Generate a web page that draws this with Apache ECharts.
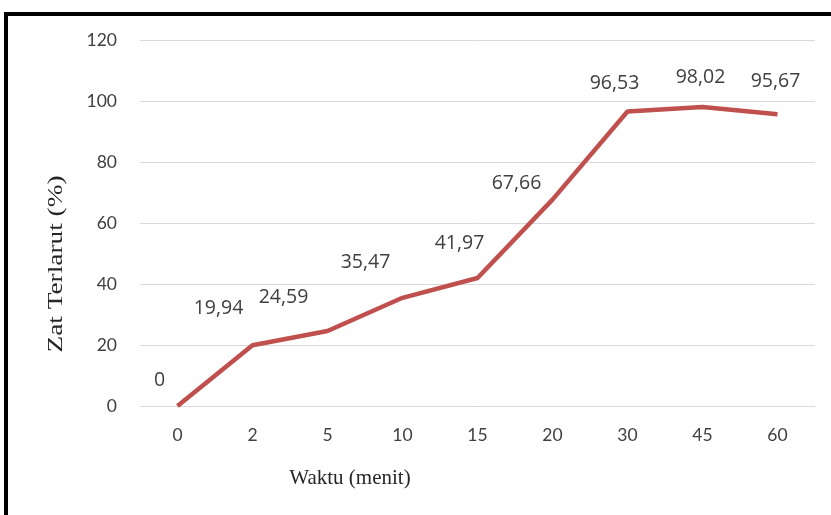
<!DOCTYPE html>
<html>
<head>
<meta charset="utf-8">
<script src="https://cdn.jsdelivr.net/npm/echarts@6/dist/echarts.min.js"></script>
<style>
  html, body { margin: 0; padding: 0; background: #ffffff; }
  #chart { width: 831px; height: 515px; }
</style>
</head>
<body>
<div id="chart"></div>
<script>
// Dissolution time points (minutes) and percentage dissolved
const waktu = ['0', '2', '5', '10', '15', '20', '30', '45', '60'];
const zatTerlarut = [0, 19.94, 24.59, 35.47, 41.97, 67.66, 96.53, 98.02, 95.67];
const yTicks = { min: 0, max: 120, interval: 20 };

// Per-point label placement [dx, dy] of the label centre from its point
const labelNudge = [
  [-18, -26], [-34, -37], [-44, -34], [-37, -35], [-18, -35],
  [-36, -16], [-13, -28], [-2, -30], [-2, -33]
];

const fmt = v => v.toFixed(2).replace('.', ',').replace(/,00$/, '');

const seriesData = zatTerlarut.map((v, i) => ({
  value: v,
  label: { offset: labelNudge[i] }
}));

const chart = echarts.init(document.getElementById('chart'), null, { renderer: 'canvas' });

chart.setOption({
  animation: false,
  backgroundColor: '#ffffff',
  grid: { left: 140, right: 16, top: 40, bottom: 109, containLabel: false },
  xAxis: {
    type: 'category',
    data: waktu,
    boundaryGap: true,
    axisLine: { show: true, lineStyle: { color: '#d9d9d9', width: 1 } },
    axisTick: { show: false },
    axisLabel: { color: '#404040', fontFamily: 'Lato', fontSize: 17.5, margin: 20 },
    splitLine: { show: false }
  },
  yAxis: {
    type: 'value',
    min: yTicks.min,
    max: yTicks.max,
    interval: yTicks.interval,
    axisLine: { show: false },
    axisTick: { show: false },
    axisLabel: { color: '#404040', fontFamily: 'Lato', fontSize: 17.5, margin: 23 },
    splitLine: { lineStyle: { color: '#d9d9d9', width: 1 } }
  },
  series: [{
    type: 'line',
    data: seriesData,
    symbol: 'circle',
    symbolSize: 0,
    showSymbol: true,
    lineStyle: { color: '#c0504d', width: 4.5 },
    itemStyle: { color: '#c0504d' },
    label: {
      show: true,
      position: 'inside',
      color: '#404040',
      fontFamily: 'Open Sans',
      fontSize: 19.5,
      formatter: p => fmt(p.value)
    },
    z: 3
  }],
  graphic: [
    {
      type: 'rect',
      shape: { x: 6, y: 14, width: 860, height: 540 },
      style: { fill: 'none', stroke: '#000000', lineWidth: 4 },
      silent: true
    },
    {
      type: 'text',
      x: 350, y: 478,
      style: {
        text: 'Waktu (menit)',
        font: '21px "Liberation Serif"',
        fill: '#262626',
        align: 'center',
        verticalAlign: 'middle'
      }
    },
    {
      type: 'text',
      x: 56, y: 264,
      rotation: Math.PI / 2,
      scaleX: 1.3,
      style: {
        text: 'Zat Terlarut (%)',
        font: '21px "Liberation Serif"',
        fill: '#262626',
        align: 'center',
        verticalAlign: 'middle'
      }
    }
  ]
});
</script>
</body>
</html>
